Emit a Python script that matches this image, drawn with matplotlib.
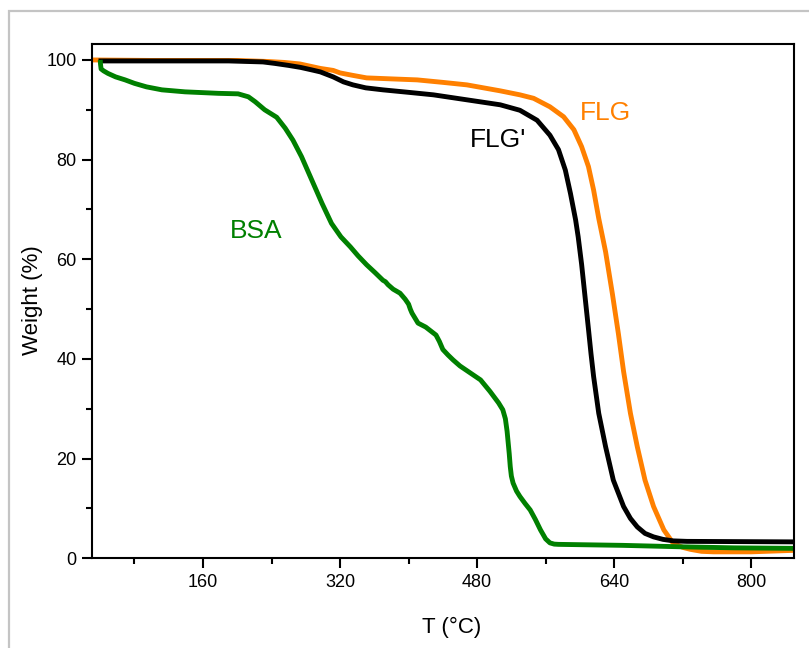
import matplotlib
matplotlib.use("Agg")
import matplotlib.pyplot as plt
from matplotlib.patches import Rectangle
from matplotlib.ticker import MultipleLocator

plt.rcParams['font.family'] = ['Liberation Sans', 'DejaVu Sans']

# TGA curves: temperature (°C) and remaining weight (%)
bsa_t = [40, 40.3, 41, 44, 49, 58, 69, 80, 94, 112,
         139, 178, 201, 213, 221, 232, 246, 256, 265, 275,
         287, 299, 310, 321, 332, 341, 351, 361, 370, 373,
         376, 382, 390, 396, 400, 402, 404, 411, 420, 426,
         432, 436, 440, 446, 452, 460, 472, 484, 495, 505,
         510, 513, 515, 516, 517.5, 518.7, 520, 522, 526, 530,
         536, 542, 548, 554, 560, 565, 570, 575, 650, 721, 780, 850]
bsa_w = [100, 99.2, 98.2, 97.8, 97.3, 96.6, 96.0, 95.3, 94.6, 94.0,
         93.6, 93.3, 93.2, 92.6, 91.6, 90.0, 88.5, 86.3, 83.9, 80.6,
         75.9, 71.2, 67.2, 64.5, 62.5, 60.7, 58.9, 57.3, 55.8, 55.5,
         54.9, 54.0, 53.2, 52.0, 51.0, 50.0, 49.2, 47.2, 46.4, 45.6,
         44.8, 43.5, 41.9, 40.8, 39.8, 38.6, 37.2, 35.8, 33.5, 31.2,
         29.8, 28.0, 25.5, 23.7, 21.0, 18.4, 16.5, 15.1, 13.5, 12.4,
         11.0, 9.7, 7.8, 5.7, 3.9, 3.1, 2.85, 2.8, 2.6, 2.3, 2.1, 2.0]

flg2_t = [38, 100, 190, 230, 244, 260, 274, 287, 297, 312,
          324, 335, 350, 370, 400, 429, 468, 507, 530, 550,
          565, 575, 583, 589, 595, 598, 602, 606, 610, 613,
          616, 622, 630, 639, 651, 659, 667, 676, 686, 697,
          709, 725, 850]
flg2_w = [99.8, 99.8, 99.8, 99.6, 99.3, 98.9, 98.5, 98.0, 97.6, 96.6,
          95.6, 95.0, 94.4, 94.0, 93.5, 93.0, 92.0, 91.0, 89.9, 87.9,
          84.9, 82.0, 77.9, 73.2, 67.9, 64.5, 59.0, 52.5, 46.0, 41.0,
          36.5, 29.1, 22.4, 15.7, 10.4, 8.0, 6.3, 5.0, 4.3, 3.8,
          3.5, 3.4, 3.3]

flg_t = [30, 100, 200, 235, 255, 273, 297, 312, 320, 335,
         351, 380, 410, 440, 468, 507, 530, 546, 565, 581,
         593, 602, 610, 616, 622, 630, 638, 645, 651,
         659, 667, 676, 686, 698, 709, 720, 729, 742, 756,
         780, 800, 850]
flg_w = [100, 99.9, 99.9, 99.7, 99.5, 99.2, 98.3, 97.9, 97.4, 96.9,
         96.4, 96.2, 96.0, 95.5, 95.0, 93.8, 93.0, 92.3, 90.6, 88.6,
         86.0, 82.6, 78.6, 73.9, 68.2, 61.5, 53.0, 45.0, 37.5,
         29.1, 22.4, 15.7, 10.4, 5.7, 3.0, 2.2, 1.8, 1.4, 1.3,
         1.3, 1.3, 1.6]

fig = plt.figure(figsize=(8.09, 6.48), dpi=100, facecolor='white')

# light grey frame around the plot, as in the exported picture
fig.patches.append(Rectangle((8.5 / 809, -0.1), 1.2, 1.1 - 11.5 / 648,
                             transform=fig.transFigure, fill=False,
                             edgecolor='#c4c4c4', linewidth=1.6))

ax = fig.add_axes([0.1133, 0.1384, 0.8682, 0.7937])

line_kw = dict(lw=3.5, solid_capstyle='butt', solid_joinstyle='round')
ax.plot(flg_t, flg_w, color='#ff8000', **line_kw)
ax.plot(flg2_t, flg2_w, color='black', **line_kw)
ax.plot(bsa_t, bsa_w, color='#008000', **line_kw)

ax.text(600, 89.4, 'FLG', color='#ff8000', fontsize=19, va='center')
ax.text(472, 83.9, "FLG'", color='black', fontsize=19, va='center')
ax.text(191, 65.7, 'BSA', color='#008000', fontsize=19, va='center')

ax.set_xlim(30, 850)
ax.set_ylim(0, 103.2)
ax.set_xticks([160, 320, 480, 640, 800])
ax.xaxis.set_minor_locator(MultipleLocator(80))
ax.yaxis.set_major_locator(MultipleLocator(20))
ax.yaxis.set_minor_locator(MultipleLocator(10))

ax.tick_params(which='major', direction='out', length=7, width=1.5, labelsize=13, pad=4)
ax.tick_params(which='minor', direction='out', length=4, width=1.5)
for s in ax.spines.values():
    s.set_linewidth(1.5)

ax.set_xlabel('T (°C)', fontsize=16)
ax.set_ylabel('Weight (%)', fontsize=16)
ax.xaxis.set_label_coords(0.512, -0.113)
ax.yaxis.set_label_coords(-0.069, 0.502)

fig.savefig('out.png', dpi=100, facecolor='white')
